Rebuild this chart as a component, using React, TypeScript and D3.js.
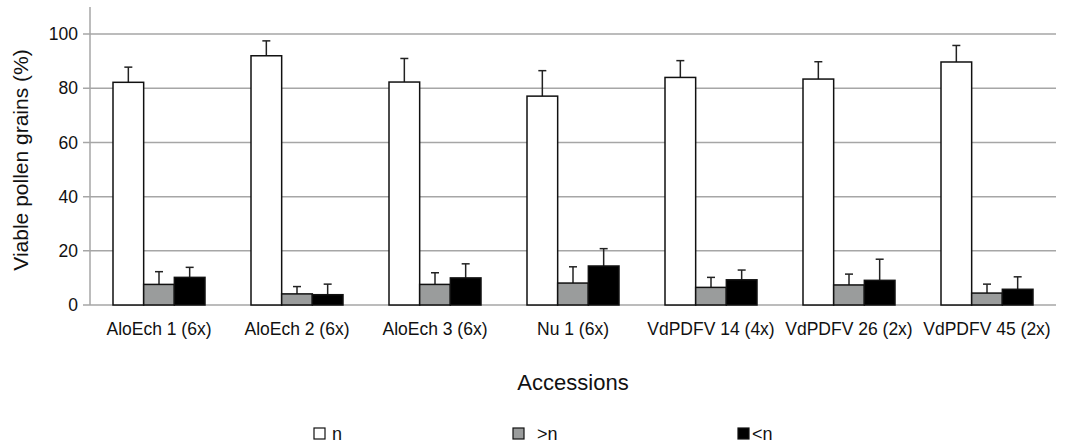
import React from "react";
import * as d3 from "d3";

// accessions on the x axis
const categories = [
  "AloEch 1 (6x)",
  "AloEch 2 (6x)",
  "AloEch 3 (6x)",
  "Nu 1 (6x)",
  "VdPDFV 14 (4x)",
  "VdPDFV 26 (2x)",
  "VdPDFV 45 (2x)",
];
const seriesNames = ["n", ">n", "<n"];
const seriesColors = ["#ffffff", "#9a9c9c", "#000000"];

// mean values (%)
const nValues = [82.2, 92.0, 82.3, 77.1, 84.0, 83.4, 89.7];
const gtValues = [7.6, 4.1, 7.6, 8.1, 6.5, 7.4, 4.4];
const ltValues = [10.2, 3.8, 10.0, 14.4, 9.3, 9.1, 5.8];
// upper end of the error bars (%)
const nErrTop = [87.8, 97.5, 91.0, 86.5, 90.2, 89.8, 95.8];
const gtErrTop = [12.3, 6.8, 11.9, 14.1, 10.2, 11.4, 7.7];
const ltErrTop = [13.9, 7.7, 15.2, 20.8, 12.9, 16.9, 10.4];

const yTicks = [0, 20, 40, 60, 80, 100];

const W = 1080;
const H = 443;
const left = 90;
const right = 1056;
const top = 7;
const bottom = 305;

const font = "'Liberation Sans', Arial, sans-serif";

export default function App() {
  const values = [nValues, gtValues, ltValues];
  const errTops = [nErrTop, gtErrTop, ltErrTop];

  const x = d3.scaleBand<string>().domain(categories).range([left, right]);
  const x1 = d3
    .scaleBand<string>()
    .domain(seriesNames)
    .range([0, x.bandwidth()])
    .paddingInner(0)
    .paddingOuter(0.75);
  const y = d3.scaleLinear().domain([0, 110]).range([bottom, top]);

  // legend positions
  const legendX = [314, 513, 738];
  const legendTextX = [332, 537, 752];

  return (
    <svg
      width={W}
      height={H}
      style={{ position: "absolute", left: 0, top: 0, background: "#fff" }}
      fontFamily={font}
    >
      {/* gridlines + ticks */}
      {yTicks.map((t) => (
        <g key={t}>
          <line
            x1={left - 7}
            x2={right}
            y1={y(t)}
            y2={y(t)}
            stroke="#a6a6a6"
            strokeWidth={1.5}
          />
          <text
            x={78}
            y={y(t)}
            dy="0.35em"
            textAnchor="end"
            fontSize={17.5}
            fill="#111"
          >
            {t}
          </text>
        </g>
      ))}
      <line x1={left} x2={left} y1={top} y2={bottom} stroke="#a6a6a6" strokeWidth={1.5} />

      {/* bars */}
      {categories.map((c, i) => (
        <g key={c} transform={`translate(${x(c)},0)`}>
          {seriesNames.map((s, k) => {
            const bx = x1(s)!;
            const v = values[k][i];
            const e = errTops[k][i];
            const cx = bx + x1.bandwidth() / 2;
            return (
              <g key={s}>
                <line x1={cx} x2={cx} y1={y(v)} y2={y(e)} stroke="#222" strokeWidth={1.5} />
                <line x1={cx - 4} x2={cx + 4} y1={y(e)} y2={y(e)} stroke="#222" strokeWidth={1.5} />
                <rect
                  x={bx}
                  y={y(v)}
                  width={x1.bandwidth()}
                  height={y(0) - y(v)}
                  fill={seriesColors[k]}
                  stroke="#111"
                  strokeWidth={1.5}
                />
              </g>
            );
          })}
          <text
            x={x.bandwidth() / 2}
            y={335}
            textAnchor="middle"
            fontSize={17.5}
            fill="#111"
          >
            {c}
          </text>
        </g>
      ))}

      {/* axis titles */}
      <text
        transform={`translate(28,160) rotate(-90)`}
        textAnchor="middle"
        fontSize={21}
        fill="#111"
      >
        Viable pollen grains (%)
      </text>
      <text x={573} y={390} textAnchor="middle" fontSize={22} fill="#111">
        Accessions
      </text>

      {/* legend */}
      {seriesNames.map((s, k) => (
        <g key={s}>
          <rect
            x={legendX[k]}
            y={428}
            width={11}
            height={11}
            fill={seriesColors[k]}
            stroke="#111"
            strokeWidth={1.2}
          />
          <text x={legendTextX[k]} y={440} fontSize={18} fill="#111">
            {s}
          </text>
        </g>
      ))}
    </svg>
  );
}
